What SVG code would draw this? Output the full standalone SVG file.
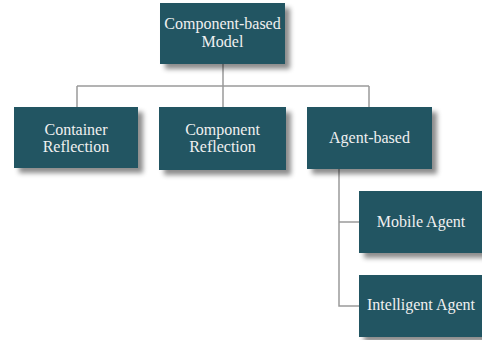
<svg xmlns="http://www.w3.org/2000/svg" width="482" height="340" viewBox="0 0 482 340">
<defs>
<filter id="sh" x="-10%" y="-10%" width="130%" height="140%">
<feDropShadow dx="5" dy="5" stdDeviation="2.5" flood-color="#000" flood-opacity="0.45"/>
</filter>
<style>
.box{fill:#245562;filter:url(#sh);}
.t{font-family:"Liberation Serif","Times New Roman",serif;font-size:16px;fill:#f0f0f0;text-anchor:middle;}
.c{stroke:#9a9a9a;stroke-width:1.5;fill:none;}
</style>
</defs>
<rect width="482" height="340" fill="#fff"/>
<g id="connectors">
<path class="c" d="M223 64V86M77 86H369M77 86V107M223 86V107M369 86V107"/>
<path class="c" d="M339 169V306H359M339 222H359"/>
</g>
<g id="n-top"><rect class="box" x="160" y="3" width="125" height="61"/><text class="t" x="222.5" y="29">Component-based</text><text class="t" x="222.5" y="47">Model</text></g>
<g id="n-container"><rect class="box" x="14" y="107" width="124" height="61"/><text class="t" x="76" y="135">Container</text><text class="t" x="76" y="152">Reflection</text></g>
<g id="n-component"><rect class="box" x="159" y="107" width="127" height="63"/><text class="t" x="222.5" y="135">Component</text><text class="t" x="222.5" y="152">Reflection</text></g>
<g id="n-agent"><rect class="box" x="307" y="107" width="125" height="62"/><text class="t" x="369.5" y="143">Agent-based</text></g>
<g id="n-mobile"><rect class="box" x="359" y="191" width="126" height="62"/><text class="t" x="421" y="227">Mobile Agent</text></g>
<g id="n-intelligent"><rect class="box" x="359" y="275" width="126" height="62"/><text class="t" x="421" y="310">Intelligent Agent</text></g>
</svg>
